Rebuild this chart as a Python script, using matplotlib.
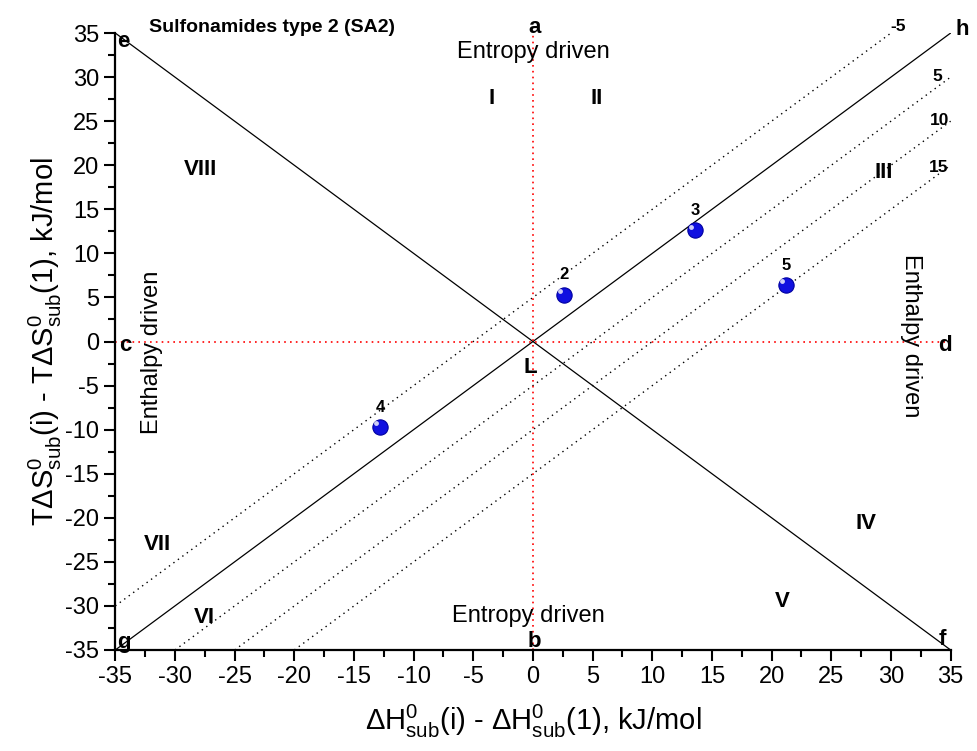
import numpy as np
import matplotlib
matplotlib.use('Agg')
import matplotlib.pyplot as plt
from matplotlib.ticker import MultipleLocator

plt.rcParams['font.family'] = ['Liberation Sans', 'DejaVu Sans']
plt.rcParams['axes.unicode_minus'] = False
plt.rcParams['mathtext.fontset'] = 'custom'
plt.rcParams['mathtext.rm'] = 'Liberation Sans'
plt.rcParams['mathtext.it'] = 'Liberation Sans:italic'
plt.rcParams['mathtext.bf'] = 'Liberation Sans:bold'

# data: compounds (dH, TdS relative to compound 1)
labels = ['2', '3', '4', '5']
dH = [2.6, 13.6, -12.8, 21.2]
TdS = [5.3, 12.6, -9.7, 6.4]

# offsets of the dotted iso-lines (y = x - c)
offsets = [-5, 5, 10, 15]
lim = 35

fig = plt.figure(figsize=(9.77, 7.51), dpi=100)
ax = fig.add_axes([0.118, 0.1345, 0.855, 0.8215])

# main diagonals
ax.plot([-lim, lim], [-lim, lim], color='black', lw=0.9)
ax.plot([-lim, lim], [lim, -lim], color='black', lw=0.9)

# iso lines
for c in offsets:
    xs = np.array([max(-lim, -lim + c), min(lim, lim + c)])
    ax.plot(xs, xs - c, color='black', lw=1.0, ls=(0, (1, 3)))

# red zero lines
ax.plot([0, 0], [-lim, lim], color='red', lw=1.2, ls=(0, (1, 2.5)))
ax.plot([-lim, lim], [0, 0], color='red', lw=1.2, ls=(0, (1, 2.5)))

# points: blue spheres
ax.plot(dH, TdS, 'o', ms=11, color='#1010e0', mec='#0000a0', mew=0.8, zorder=5)
ax.plot(np.array(dH) - 0.35, np.array(TdS) + 0.45, 'o', ms=3.5, color='white', mec='none', alpha=0.8, zorder=6)
for lx, ly, t in zip(dH, TdS, labels):
    ax.text(lx, ly + 1.4, t, ha='center', va='bottom', fontsize=12, fontweight='bold')

# line number labels
num_pos = {'-5': (30.6, 35.7), '5': (33.9, 30.1), '10': (34.1, 25.1), '15': (34.0, 19.7)}
for t, (px, py) in num_pos.items():
    ax.text(px, py, t, ha='center', va='center', fontsize=12.5, fontweight='bold', clip_on=False)

# corner letters
letters = {'a': (0.1, 35.6), 'b': (0.1, -34.0), 'c': (-34.2, -0.4), 'd': (34.5, -0.4),
           'e': (-34.3, 34.0), 'f': (34.3, -33.8), 'g': (-34.3, -34.2), 'h': (36.0, 35.4),
           'L': (-0.2, -3.0)}
for t, (px, py) in letters.items():
    ax.text(px, py, t, ha='center', va='center', fontsize=16, fontweight='bold', clip_on=False)

# sectors
sectors = {'I': (-3.5, 27.6), 'II': (5.3, 27.6), 'III': (29.4, 19.2), 'IV': (27.9, -20.6),
           'V': (20.9, -29.5), 'VI': (-27.5, -31.3), 'VII': (-31.5, -23.0), 'VIII': (-27.9, 19.5)}
for t, (px, py) in sectors.items():
    ax.text(px, py, t, ha='center', va='center', fontsize=16, fontweight='bold')

ax.text(0, 32.8, 'Entropy driven', ha='center', va='center', fontsize=17)
ax.text(-0.4, -31.1, 'Entropy driven', ha='center', va='center', fontsize=17)
ax.text(-31.9, -1.2, 'Enthalpy driven', ha='center', va='center', fontsize=17, rotation=90)
ax.text(31.7, 0.7, 'Enthalpy driven', ha='center', va='center', fontsize=17, rotation=270)

ax.text(-32.2, 35.6, 'Sulfonamides type 2 (SA2)', ha='left', va='center', fontsize=14,
        fontweight='bold', clip_on=False)

ax.set_xlim(-lim, lim)
ax.set_ylim(-lim, lim)
ax.xaxis.set_major_locator(MultipleLocator(5))
ax.yaxis.set_major_locator(MultipleLocator(5))
ax.xaxis.set_minor_locator(MultipleLocator(2.5))
ax.yaxis.set_minor_locator(MultipleLocator(2.5))
ax.spines['top'].set_visible(False)
ax.spines['right'].set_visible(False)
ax.spines['left'].set_linewidth(1.6)
ax.spines['bottom'].set_linewidth(1.6)
ax.tick_params(which='major', direction='out', length=8, width=1.5, labelsize=17)
ax.tick_params(which='minor', direction='out', length=5, width=1.5)

ax.set_xlabel(r'$\mathregular{\Delta H^0_{sub}}$(i) - $\mathregular{\Delta H^0_{sub}}$(1), kJ/mol',
              fontsize=21, labelpad=11)
ax.set_ylabel(r'$\mathregular{T\Delta S^0_{sub}}$(i) - $\mathregular{T\Delta S^0_{sub}}$(1), kJ/mol',
              fontsize=21, labelpad=1)

fig.savefig('out.png', dpi=100)
